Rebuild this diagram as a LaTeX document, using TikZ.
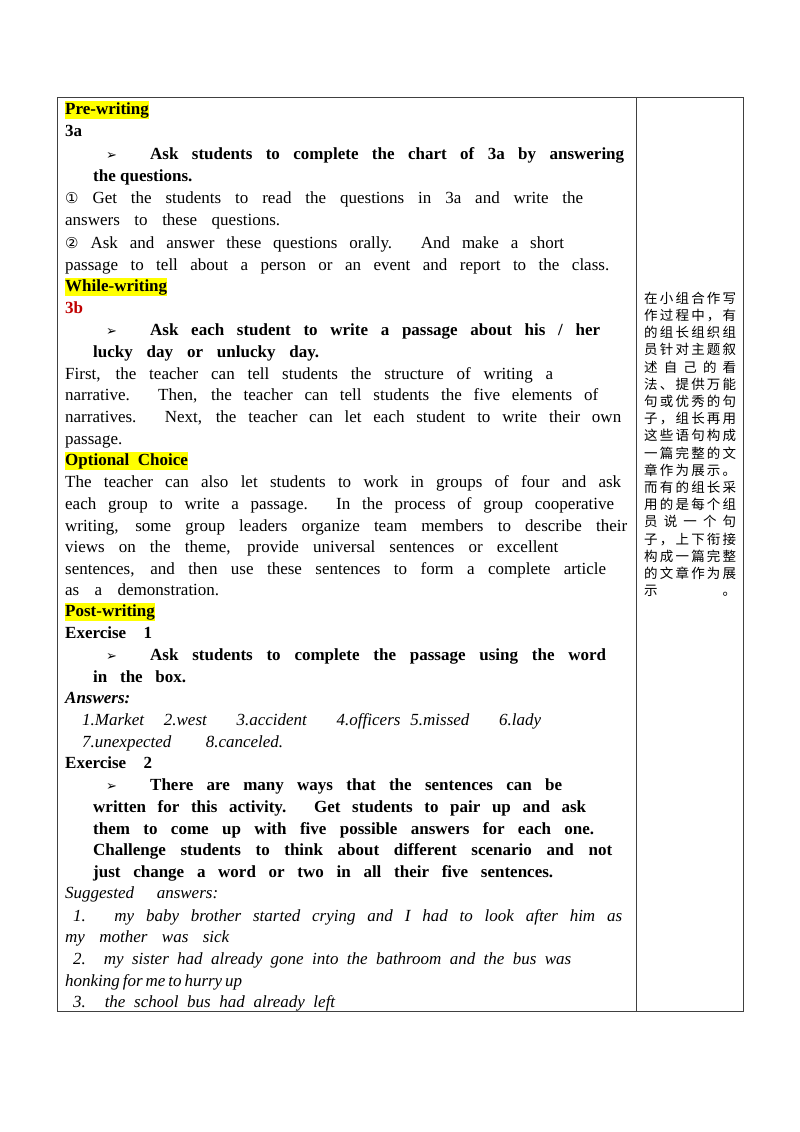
\documentclass[tikz,border=0pt]{standalone}
\usepackage{fontspec}
\setmainfont{Liberation Serif}
\newfontfamily\cjk{Noto Sans CJK SC}
\newfontfamily\symf{DejaVu Sans}
\usetikzlibrary{positioning}
\definecolor{hl}{RGB}{255,255,0}
\definecolor{darkred}{RGB}{192,0,0}

% one line of text, stretched to width w (base west at x,y)
\newcommand{\tline}[5]{\node[txt] (#1) at (#2,#3) {\makebox[#4pt][s]{#5}};}
\newcommand{\bul}{{\symf\fontsize{13}{13}\selectfont ➢}}

\begin{document}
\begin{tikzpicture}[
x=1pt, y=-1pt,
txt/.style={anchor=base west, inner sep=0pt, font=\fontsize{17}{20}\selectfont},
head/.style={txt, fill=hl, font=\fontsize{17}{20}\selectfont\bfseries, inner ysep=1pt},
cn/.style={anchor=base west, inner sep=0pt, font=\cjk\fontsize{13.5}{16}\selectfont},
frame/.style={draw=black!75, line width=0.8pt}
]
\useasboundingbox (0,0) rectangle (800,1132);

% table
\draw[frame] (57,97) rectangle (743,1011);
\draw[frame] (636,97) -- (636,1011);

% pre-writing
\node[head] (pre) at (65,114) {Pre-writing};
\node[txt, font=\fontsize{17}{20}\selectfont\bfseries] (a3) at (65,136) {3a};
\node[txt] (b1) at (106,159) {\bul};
\tline{l1}{150}{159}{474}{\bfseries Ask students to complete the chart of 3a by answering}
\node[txt, font=\fontsize{17}{20}\selectfont\bfseries] (l2) at (93,181) {the questions.};
\tline{l3}{65}{203}{518}{{\symf\fontsize{15}{15}\selectfont ①} Get the students to read the questions in 3a and write the}
\tline{l4}{65}{225}{215}{answers to these questions.}
\tline{l5}{65}{248}{499}{{\symf\fontsize{15}{15}\selectfont ②} Ask and answer these questions orally. And make a short}
\tline{l6}{65}{270}{544}{passage to tell about a person or an event and report to the class.}

% while-writing
\node[head] (while) at (65,291) {While-writing};
\node[txt, font=\fontsize{17}{20}\selectfont\bfseries, text=darkred] (b3) at (65,313) {3b};
\node[txt] (b2) at (106,335) {\bul};
\tline{l7}{150}{335}{450}{\bfseries Ask each student to write a passage about his / her}
\tline{l8}{93}{357}{226}{\bfseries lucky day or unlucky day.}
\tline{l9}{65}{379}{488}{First, the teacher can tell students the structure of writing a}
\tline{l10}{65}{400}{533}{narrative. Then, the teacher can tell students the five elements of}
\tline{l11}{65}{422}{556}{narratives. Next, the teacher can let each student to write their own}
\node[txt] (l12) at (65,444) {passage.};

% optional
\node[head] (opt) at (65,465) {Optional\ \ Choice};
\tline{l13}{65}{487}{556}{The teacher can also let students to work in groups of four and ask}
\tline{l14}{65}{509}{549}{each group to write a passage. In the process of group cooperative}
\tline{l15}{65}{531}{562}{writing, some group leaders organize team members to describe their}
\tline{l16}{65}{552}{493}{views on the theme, provide universal sentences or excellent}
\tline{l17}{65}{574}{541}{sentences, and then use these sentences to form a complete article}
\tline{l18}{65}{595}{154}{as a demonstration.}

% post-writing
\node[head] (post) at (65,616) {Post-writing};
\tline{e1}{65}{638}{87}{\bfseries Exercise 1}
\node[txt] (b4) at (106,660) {\bul};
\tline{l19}{150}{660}{456}{\bfseries Ask students to complete the passage using the word}
\tline{l20}{93}{682}{93}{\bfseries in the box.}
\node[txt, font=\fontsize{17}{20}\selectfont\bfseries\itshape] (ans) at (65,703) {Answers:};
\tline{l21}{82}{725}{459}{\itshape 1.Market\ \ 2.west\ \ \ 3.accident\ \ \ 4.officers\ 5.missed\ \ \ 6.lady}
\tline{l22}{82}{747}{201}{\itshape 7.unexpected\ \ \ 8.canceled.}
\tline{e2}{65}{768}{87}{\bfseries Exercise 2}
\node[txt] (b5) at (106,790) {\bul};
\tline{l23}{150}{790}{412}{\bfseries There are many ways that the sentences can be}
\tline{l24}{93}{812}{493}{\bfseries written for this activity. Get students to pair up and ask}
\tline{l25}{93}{834}{501}{\bfseries them to come up with five possible answers for each one.}
\tline{l26}{93}{855}{519}{\bfseries Challenge students to think about different scenario and not}
\tline{l27}{93}{877}{460}{\bfseries just change a word or two in all their five sentences.}
\tline{l28}{65}{898}{153}{\itshape Suggested answers:}
\tline{l29}{73}{921}{549}{\itshape 1. my baby brother started crying and I had to look after him as}
\tline{l30}{65}{942}{164}{\itshape my mother was sick}
\tline{l31}{73}{964}{498}{\itshape 2. my sister had already gone into the bathroom and the bus was}
\tline{l32}{65}{986}{177}{\itshape honking for me to hurry up}
\tline{l33}{73}{1007}{262}{\itshape 3. the school bus had already left}

% right column
\foreach \t [count=\i] in {在\hfill 小\hfill 组\hfill 合\hfill 作\hfill 写,
  作\hfill 过\hfill 程\hfill 中\hfill ，\hfill 有,
  的\hfill 组\hfill 长\hfill 组\hfill 织\hfill 组,
  员\hfill 针\hfill 对\hfill 主\hfill 题\hfill 叙,
  述\hfill 自\hfill 己\hfill 的\hfill 看,
  法\hfill 、\hfill 提\hfill 供\hfill 万\hfill 能,
  句\hfill 或\hfill 优\hfill 秀\hfill 的\hfill 句,
  子\hfill ，\hfill 组\hfill 长\hfill 再\hfill 用,
  这\hfill 些\hfill 语\hfill 句\hfill 构\hfill 成,
  一\hfill 篇\hfill 完\hfill 整\hfill 的\hfill 文,
  章\hfill 作\hfill 为\hfill 展\hfill 示\hfill 。,
  而\hfill 有\hfill 的\hfill 组\hfill 长\hfill 采,
  用\hfill 的\hfill 是\hfill 每\hfill 个\hfill 组,
  员\hfill 说\hfill 一\hfill 个\hfill 句,
  子\hfill ，\hfill 上\hfill 下\hfill 衔\hfill 接,
  构\hfill 成\hfill 一\hfill 篇\hfill 完\hfill 整,
  的\hfill 文\hfill 章\hfill 作\hfill 为\hfill 展,
  示\hfill 。}
  \node[cn] (c\i) at (644,{286+17.2*\i}) {\makebox[92pt][s]{\t}};
\end{tikzpicture}
\end{document}
